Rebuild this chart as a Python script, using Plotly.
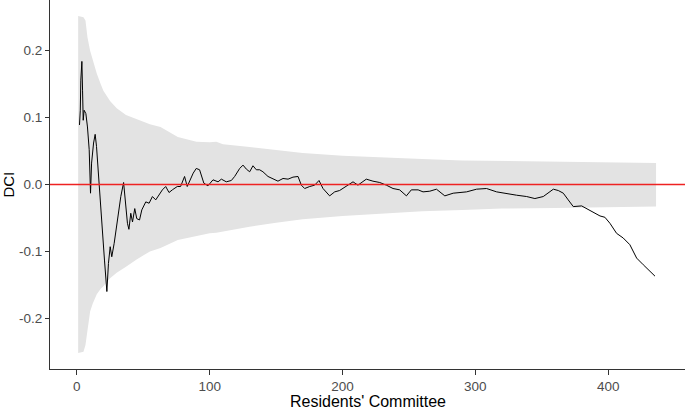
import plotly.graph_objects as go

# DCI running estimate
committee = [2.0, 2.6, 3.0, 3.8, 4.3, 4.8, 5.5, 6.8, 8.0, 9.3, 10.3, 11.1, 12.6, 13.8, 14.8,
             16.3, 18.1, 19.8, 20.8, 22.6, 23.8, 25.1, 26.3, 28.1, 30.6, 33.1, 35.2, 36.4,
             38.1, 39.2, 40.6, 41.9, 43.6, 45.1, 47.2, 48.9, 51.9, 54.4, 56.9, 59.4, 62.3,
             64.4, 66.9, 69.4, 71.9, 75.6, 78.1, 81.1, 83.1, 85.6, 87.6, 89.9, 92.4, 95.6,
             98.7, 102.5, 106.3, 108.8, 112.5, 116.3, 118.8, 122.6, 125.1, 127.6, 130.1,
             132.6, 135.1, 137.6, 140.1, 143.9, 147.7, 151.4, 155.2, 159.0, 162.7, 166.5,
             169.0, 171.5, 175.3, 179.0, 182.3, 185.3, 190.3, 194.1, 197.8, 202.9, 207.9,
             211.6, 215.4, 217.9, 222.9, 228.0, 233.0, 238.0, 243.0, 248.1, 251.8, 256.9,
             260.6, 265.7, 270.7, 274.5, 277.0, 283.3, 293.4, 300.9, 308.4, 316.0, 323.5,
             331.0, 338.6, 344.8, 351.1, 354.9, 358.7, 362.4, 366.2, 369.9, 373.7, 380.0,
             383.7, 388.7, 393.8, 397.5, 401.3, 406.3, 411.3, 416.3, 421.4, 426.4, 431.4,
             435.2]
dci = [0.089, 0.111, 0.156, 0.184, 0.141, 0.096, 0.111, 0.106, 0.086, 0.052, -0.013, 0.032,
       0.062, 0.075, 0.057, 0.012, -0.038, -0.098, -0.113, -0.160, -0.118, -0.093, -0.108,
       -0.088, -0.053, -0.018, 0.003, -0.028, -0.058, -0.067, -0.043, -0.056, -0.036, -0.051,
       -0.053, -0.038, -0.026, -0.028, -0.018, -0.023, -0.013, -0.008, -0.003, -0.012, -0.008,
       -0.003, -0.003, 0.012, -0.003, 0.009, 0.017, 0.024, 0.022, 0.002, -0.002, 0.007, 0.004,
       0.008, 0.004, 0.006, 0.012, 0.024, 0.029, 0.023, 0.019, 0.028, 0.022, 0.022, 0.019,
       0.012, 0.009, 0.005, 0.009, 0.008, 0.011, 0.012, -0.001, -0.006, -0.003, -0.001, 0.006,
       -0.006, -0.017, -0.011, -0.009, -0.003, 0.004, -0.001, 0.004, 0.008, 0.005, 0.003,
       -0.001, -0.006, -0.008, -0.017, -0.008, -0.008, -0.011, -0.010, -0.007, -0.013, -0.017,
       -0.013, -0.011, -0.007, -0.006, -0.011, -0.014, -0.016, -0.018, -0.021, -0.018, -0.012,
       -0.007, -0.009, -0.013, -0.023, -0.033, -0.032, -0.036, -0.041, -0.047, -0.049, -0.058,
       -0.073, -0.080, -0.090, -0.110, -0.120, -0.130, -0.137]

# envelope
band_x = [1, 5, 6.5, 8, 10, 12, 15, 18, 20, 25, 30, 37, 45, 55, 63, 76, 90, 100, 105, 110,
          130, 150, 170, 200, 230, 260, 290, 320, 360, 400, 436]
band_upper = [0.252, 0.250, 0.245, 0.220, 0.200, 0.185, 0.166, 0.150, 0.140, 0.125, 0.114,
              0.104, 0.098, 0.090, 0.086, 0.071, 0.064, 0.063, 0.064, 0.060, 0.056, 0.052,
              0.047, 0.043, 0.040, 0.038, 0.036, 0.035, 0.034, 0.033, 0.032]
band_lower = [-0.252, -0.250, -0.240, -0.215, -0.190, -0.178, -0.164, -0.156, -0.152, -0.140,
              -0.132, -0.123, -0.112, -0.100, -0.095, -0.083, -0.077, -0.073, -0.072, -0.070,
              -0.063, -0.057, -0.052, -0.047, -0.043, -0.040, -0.038, -0.036, -0.035, -0.034,
              -0.033]

x_ticks = [0, 100, 200, 300, 400]
y_ticks = [-0.2, -0.1, 0.0, 0.1, 0.2]
y_labels = ['-0.2', '-0.1', '0.0', '0.1', '0.2']

fig = go.Figure()
fig.add_trace(go.Scatter(x=band_x, y=band_lower, mode='lines', line=dict(width=0),
                         hoverinfo='skip', showlegend=False))
fig.add_trace(go.Scatter(x=band_x, y=band_upper, mode='lines', line=dict(width=0),
                         fill='tonexty', fillcolor='#e3e3e3', hoverinfo='skip', showlegend=False))
fig.add_trace(go.Scatter(x=committee, y=dci, mode='lines', line=dict(color='black', width=1),
                         showlegend=False))
fig.add_hline(y=0, line=dict(color='#ee2222', width=1.6))

axis_font = dict(family='Liberation Sans, Arial', size=13.5, color='#4d4d4d')
fig.update_layout(
  width=685, height=409,
  margin=dict(l=50, r=0, t=0, b=40),
  paper_bgcolor='white', plot_bgcolor='white',
  font=dict(family='Liberation Sans, Arial'),
)
fig.update_xaxes(range=[-20.2, 457.8], tickvals=x_ticks, showgrid=False, zeroline=False,
                 showline=True, linecolor='#333333', linewidth=1.2, automargin=False,
                 ticks='outside', ticklen=5, tickcolor='#333333', tickfont=axis_font)
fig.update_yaxes(range=[-0.2758, 0.2758], tickvals=y_ticks, ticktext=y_labels, showgrid=False,
                 zeroline=False, showline=True, linecolor='#333333', linewidth=1.2,
                 automargin=False, ticks='outside', ticklen=4, tickcolor='#333333',
                 tickfont=axis_font)

# axis titles as annotations so the margins stay put
fig.add_annotation(text="Residents' Committee", xref='paper', yref='paper', x=0.5, y=-0.1165,
                   xanchor='center', yanchor='bottom', showarrow=False,
                   font=dict(size=16, color='black'))
fig.add_annotation(text='DCI', xref='paper', yref='paper', x=-0.066, y=0.5,
                   xanchor='center', yanchor='middle', textangle=-90, showarrow=False,
                   font=dict(size=15, color='black'))

# the page body has a default 8px margin; drop it so the figure fills the window
fig.write_html("out.html", config={'displayModeBar': False},
               post_script="document.body.style.margin='0px';")
